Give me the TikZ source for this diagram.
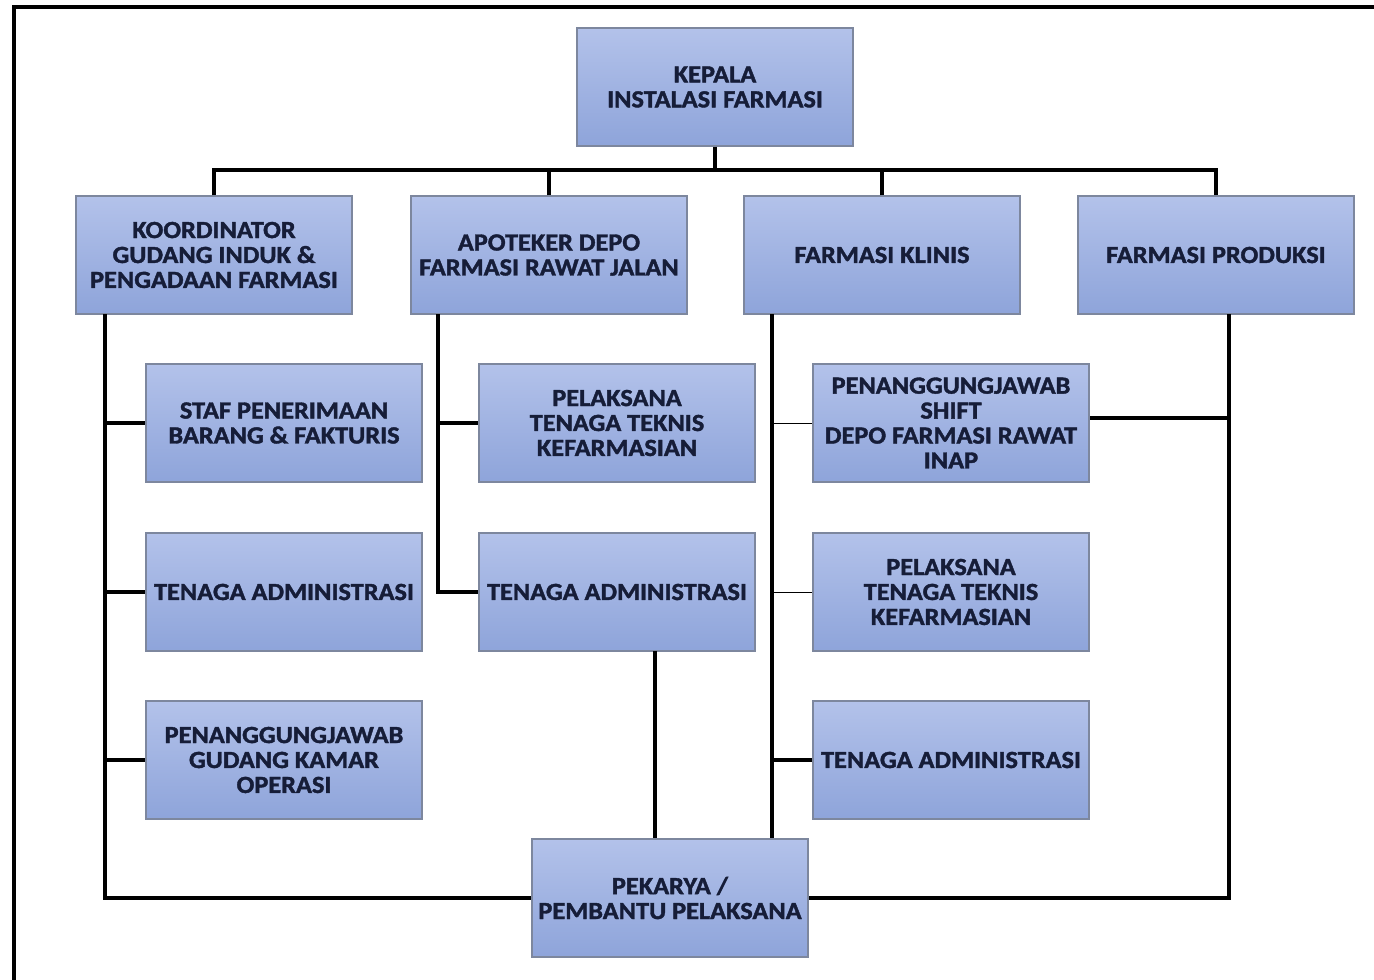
\documentclass[tikz,border=0pt]{standalone}
\usepackage{fontspec}
\setmainfont{Carlito}[BoldFeatures={FakeBold=1.6,FakeStretch=1.07}]
\definecolor{boxtop}{HTML}{B3C2EA}
\definecolor{boxbot}{HTML}{8EA4DA}
\definecolor{boxedge}{HTML}{7D879E}
\definecolor{txt}{HTML}{161D38}
\definecolor{thin}{HTML}{A8A8A8}
\tikzset{
  box/.style={rectangle, draw=boxedge, line width=0.8pt, top color=boxtop, bottom color=boxbot,
    minimum width=5.52cm, minimum height=2.36cm, align=center, text=txt,
    font=\fontsize{14}{14.2}\selectfont\bfseries, inner sep=1pt},
  conn/.style={line width=2.3pt, black},
  thinconn/.style={line width=0.9pt, thin},
  frame/.style={line width=1.8pt, black}
}
\begin{document}
\begin{tikzpicture}[x=0.02cm, y=-0.02cm]
\useasboundingbox (0,0) rectangle (1374,980);
\draw[frame] (14,980) -- (14,7) -- (1374,7);

\node[box] (k) at (715,87) {KEPALA\\INSTALASI FARMASI};
\node[box] (c1) at (214,255) {KOORDINATOR\\GUDANG INDUK \&\\PENGADAAN FARMASI};
\node[box] (c2) at (549,255) {APOTEKER DEPO\\FARMASI RAWAT JALAN};
\node[box] (c3) at (882,255) {FARMASI KLINIS};
\node[box] (c4) at (1216,255) {FARMASI PRODUKSI};

\node[box] (s1) at (284,423) {STAF PENERIMAAN\\BARANG \& FAKTURIS};
\node[box] (t1) at (284,592) {TENAGA ADMINISTRASI};
\node[box] (g1) at (284,760) {PENANGGUNGJAWAB\\GUDANG KAMAR\\OPERASI};

\node[box] (p2) at (617,423) {PELAKSANA\\TENAGA TEKNIS\\KEFARMASIAN};
\node[box] (t2) at (617,592) {TENAGA ADMINISTRASI};

\node[box] (s3) at (951,423) {PENANGGUNGJAWAB\\SHIFT\\DEPO FARMASI RAWAT\\INAP};
\node[box] (p3) at (951,592) {PELAKSANA\\TENAGA TEKNIS\\KEFARMASIAN};
\node[box] (t3) at (951,760) {TENAGA ADMINISTRASI};

\node[box] (p) at (670,898) {PEKARYA /\\PEMBANTU PELAKSANA};

% top bus
\coordinate (bus) at (715,170);
\draw[conn] (k.south) -- (k.south |- bus);
\draw[conn] (c1.north) |- (bus) -| (c4.north);
\draw[conn] (c2.north) -- (c2.north |- bus);
\draw[conn] (c3.north) -- (c3.north |- bus);

% column 1
\coordinate (a1) at (105,314);
\draw[conn] (a1) |- (p.west);
\draw[conn] (a1 |- s1.west) -- (s1.west);
\draw[conn] (a1 |- t1.west) -- (t1.west);
\draw[conn] (a1 |- g1.west) -- (g1.west);

% column 2
\coordinate (a2) at (438,314);
\draw[conn] (a2) |- (t2.west);
\draw[conn] (a2 |- p2.west) -- (p2.west);
\coordinate (b2) at (655,651);
\draw[conn] (b2) -- (b2 |- p.north);

% column 3
\coordinate (a3) at (772,314);
\draw[conn] (a3) -- (a3 |- p.north);
\draw[thinconn] (a3 |- s3.west) -- (s3.west);
\draw[thinconn] (a3 |- p3.west) -- (p3.west);
\draw[conn] (a3 |- t3.west) -- (t3.west);

% column 4
\coordinate (a4) at (1229,314);
\draw[conn] (a4) |- (p.east);
\coordinate (e4) at (1229,418);
\draw[conn] (e4) -- (e4 -| s3.east);
\end{tikzpicture}
\end{document}
